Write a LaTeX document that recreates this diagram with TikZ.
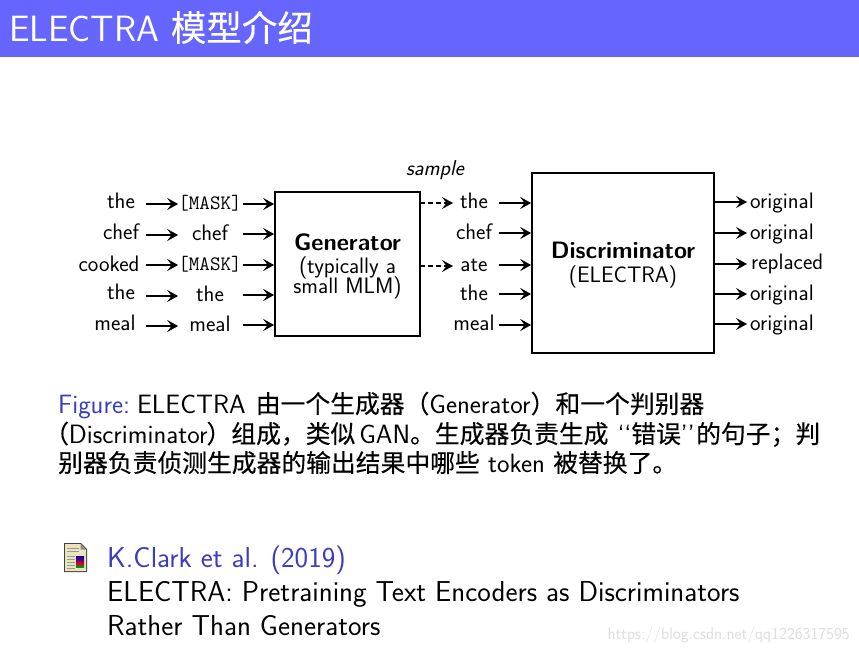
\documentclass[tikz,border=0pt]{standalone}
\usepackage{fontspec}
\usetikzlibrary{arrows.meta}
\newfontfamily\cjk[FakeBold=0.3]{Noto Sans CJK SC}
\newcommand{\zh}[1]{{\cjk\fontsize{24.8}{25}\selectfont #1}}
\definecolor{headbar}{RGB}{102,102,255}
\definecolor{linkblue}{RGB}{60,60,190}
\definecolor{wmark}{RGB}{222,222,222}
\tikzset{
  lab/.style={inner sep=0pt,font=\sffamily\fontsize{22.4}{22.4}\selectfont,text=black,anchor=base},
  mask/.style={inner sep=0pt,font=\ttfamily\fontsize{20.5}{20.5}\selectfont,text=black,anchor=base},
  blocktitle/.style={lab,font=\sffamily\bfseries\fontsize{23.7}{23.7}\selectfont},
  blockbox/.style={draw=black,line width=1.7pt,fill=white},
  arr/.style={-{Stealth[length=11pt,width=12pt,inset=4.5pt]},line width=1.7pt,black},
  darr/.style={arr,dash pattern=on 5pt off 3pt},
  captext/.style={inner sep=0pt,anchor=base west,font=\sffamily\fontsize{26.5}{26.5}\selectfont,text=black},
  reftext/.style={inner sep=0pt,anchor=base west,font=\sffamily\fontsize{28.8}{28.8}\selectfont,text=black},
}
\begin{document}
\begin{tikzpicture}[x=1pt,y=-1pt]
\useasboundingbox (0,0) rectangle (859,651);
\fill[white] (0,0) rectangle (859,651);
\fill[headbar] (0,0) rectangle (859,57);
\node[inner sep=0pt,anchor=base west,text=white,font=\sffamily\fontsize{36.6}{36.6}\selectfont] (title) at (9,41) {ELECTRA {\cjk\fontsize{35.5}{36}\selectfont 模型介绍}};
% blocks
\node[blockbox,minimum width=145pt,minimum height=144pt,inner sep=0pt] (gen) at (347.5,264) {};
\node[blockbox,minimum width=182pt,minimum height=180pt,inner sep=0pt] (disc) at (623,263) {};
\node[blocktitle] (gent) at (347.5,250) {Generator};
\node[lab,text depth=2pt] (gen2) at (347.5,273) {(typically a};
\node[lab,text height=14pt] (gen3) at (347.5,293) {small MLM)};
\node[blocktitle] (disct) at (623,258) {Discriminator};
\node[lab] (disc2) at (623,282) {(ELECTRA)};
\node[lab,font=\sffamily\itshape\fontsize{21.5}{21.5}\selectfont] (samp) at (435,175) {sample};
% column 1
\node[lab] (a1) at (121,208) {the};
\node[lab] (a2) at (121,239) {chef};
\node[lab] (a3) at (109,271) {cooked};
\node[lab] (a4) at (121,299) {the};
\node[lab] (a5) at (115,330) {meal};
% column 2
\node[mask] (b1) at (210,209) {[MASK]};
\node[lab] (b2) at (210,240) {chef};
\node[mask] (b3) at (210,270) {[MASK]};
\node[lab] (b4) at (210,301) {the};
\node[lab] (b5) at (210,331) {meal};
% column 3
\node[lab] (c1) at (474,208) {the};
\node[lab] (c2) at (474,239) {chef};
\node[lab] (c3) at (474,271) {ate};
\node[lab] (c4) at (474,300) {the};
\node[lab] (c5) at (474,330) {meal};
% outputs
\node[lab,anchor=base west] (o1) at (750,208) {original};
\node[lab,anchor=base west] (o2) at (750,239) {original};
\node[lab,anchor=base west] (o3) at (751,269) {replaced};
\node[lab,anchor=base west] (o4) at (750,300) {original};
\node[lab,anchor=base west] (o5) at (750,330) {original};
% arrows
\foreach \n/\y in {1/204,2/235,3/265,4/296,5/326}{
  \coordinate (p\n) at (146,\y);
  \draw[arr] (p\n) -- (p\n -| b1.west);
}
\foreach \n/\y in {1/204,2/234,3/265,4/295,5/325}{
  \coordinate (q\n) at (243,\y);
  \draw[arr] (q\n) -- (q\n -| gen.west);
}
\foreach \n/\y in {1/203,3/266}{
  \coordinate (d\n) at (420,\y);
  \draw[darr] (d\n) -- (453,\y);
}
\foreach \n/\y in {1/203,2/233,3/265,4/294,5/325}{
  \coordinate (r\n) at (499,\y);
  \draw[arr] (r\n) -- (r\n -| disc.west);
}
\foreach \n/\y in {1/202,2/233,3/264,4/294,5/324}{
  \coordinate (s\n) at (714,\y);
  \draw[arr] (s\n) -- (747,\y);
}
% caption
\node[captext] (l1) at (58,413) {\textcolor{linkblue}{Figure:}\hspace{7pt}ELECTRA\hspace{10pt}\zh{由一个生成器（}Generator\zh{）和一个判别器}};
\node[captext] (l2) at (44,443) {\hbox to 776pt{\zh{（}Discriminator\hspace{-1pt}\zh{）组成，类似}\hspace{4pt}GAN\zh{。生成器负责生成}\hspace{9pt}`{}`\zh{错误}'{}'\hfil\zh{的句子；判}}};
\node[captext] (l3) at (58,472) {\zh{别器负责侦测生成器的输出结果中哪些} token \zh{被替换了。}};
% reference icon
\fill[black!75] (64,543) -- (81,543) -- (87,549) -- (87,572) -- (64,572) -- cycle;
\fill[yellow!20!white!90!black] (65,544) -- (80.5,544) -- (86,549.5) -- (86,571) -- (65,571) -- cycle;
\fill[black!45] (80.5,544) -- (80.5,549.5) -- (86,549.5) -- cycle;
\foreach \yy in {548,551}{\draw[black!40,line width=.7pt] (67,\yy) -- (79,\yy);}
\foreach \yy in {556,559,562,565,568}{\draw[black!40,line width=.7pt] (67,\yy) -- (75,\yy);}
\shade[top color=blue!70!black,bottom color=purple!80!red] (76,556) rectangle (84,563);
\shade[top color=purple!80!red,bottom color=green!60!black] (76,563) rectangle (84,567);
% reference text
\node[reftext,text=linkblue] (r1t) at (107,567) {K.Clark et al. (2019)};
\node[reftext] (r2t) at (107,601) {ELECTRA: Pretraining Text Encoders as Discriminators};
\node[reftext] (r3t) at (107,635) {Rather Than Generators};
\node[inner sep=0pt,anchor=base east,text=wmark,font=\sffamily\fontsize{16.7}{16.7}\selectfont] (wm) at (850,639) {https://blog.csdn.net/qq1226317595};
\end{tikzpicture}
\end{document}
